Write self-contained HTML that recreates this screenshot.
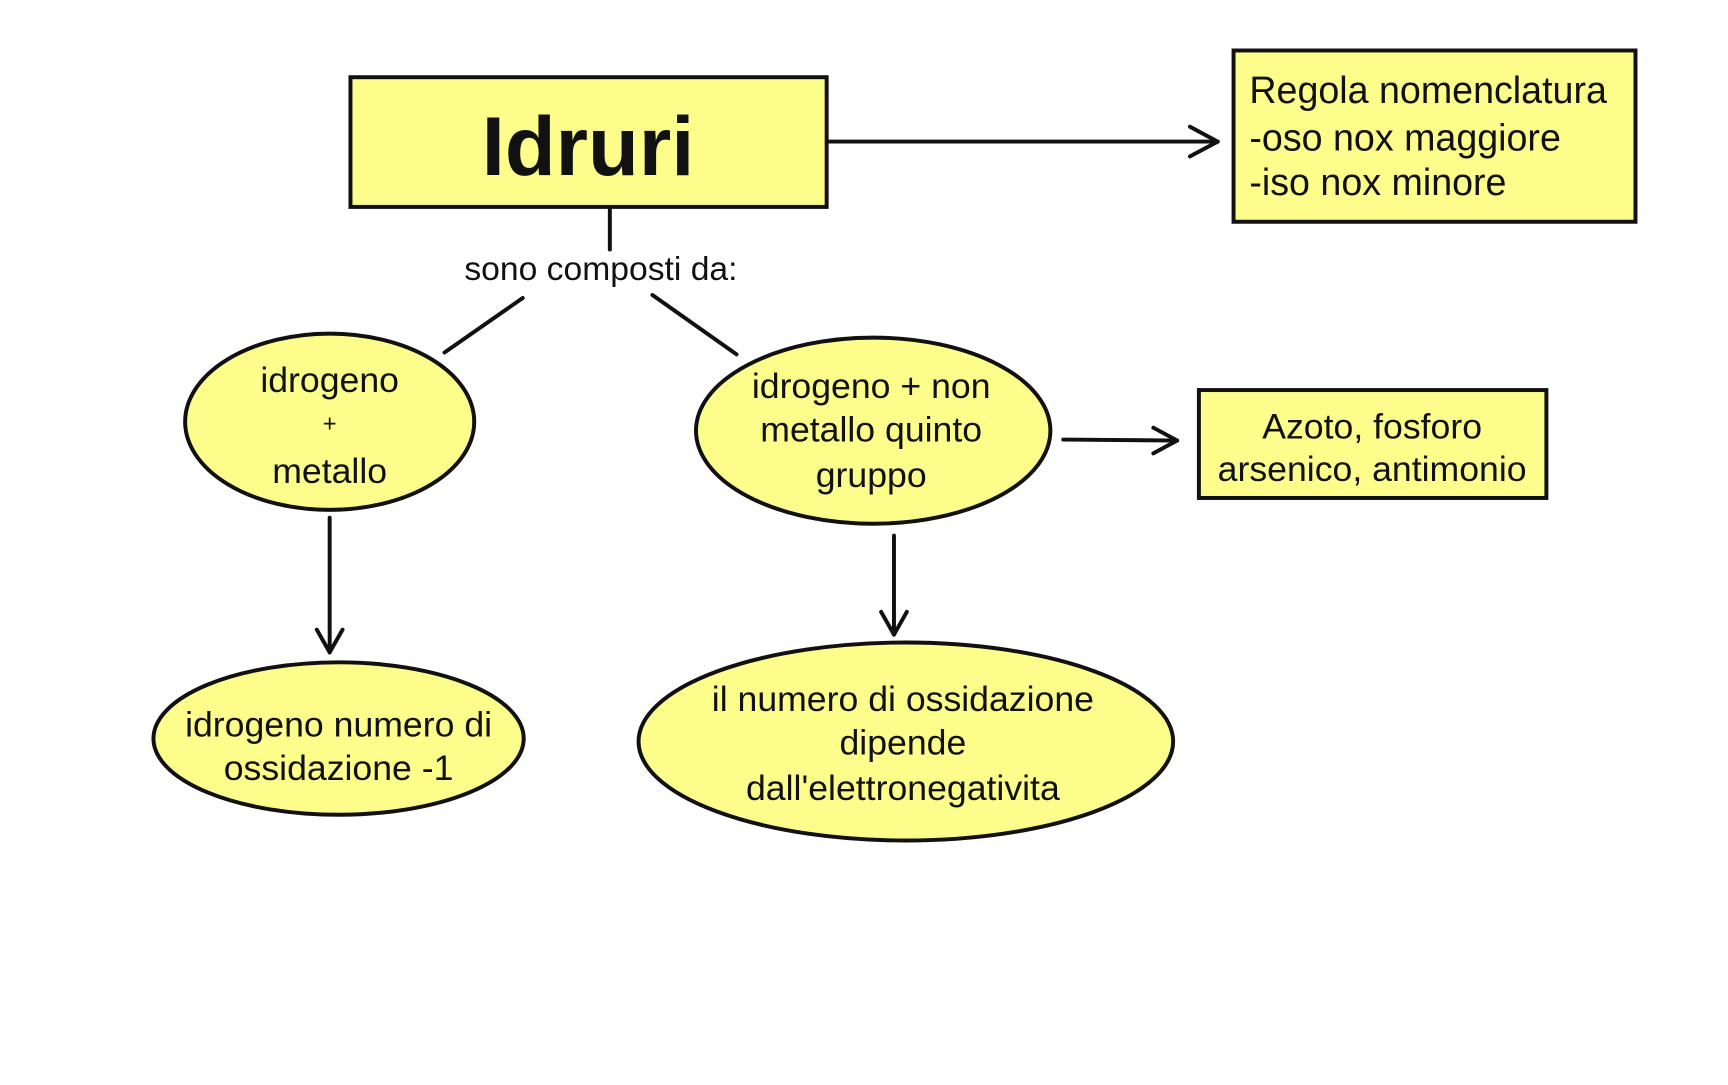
<!DOCTYPE html>
<html><head><meta charset="utf-8"><style>
html,body{margin:0;padding:0;background:#fff;}
svg text{font-family:"Liberation Sans Narrow","Liberation Sans",sans-serif;fill:#111;text-anchor:middle;}
</style></head><body>
<svg width="1728" height="1080" viewBox="0 0 1728 1080" xmlns="http://www.w3.org/2000/svg">
<g transform="scale(0.99)">
<g stroke="#111" stroke-width="4" fill="#fdfd8c">
<rect x="354" y="78" width="481" height="131"/>
<rect x="1246" y="51" width="406" height="173"/>
<rect x="1211" y="394" width="351" height="109"/>
<ellipse cx="333" cy="426" rx="146" ry="89"/>
<ellipse cx="882" cy="435" rx="179" ry="94"/>
<ellipse cx="342" cy="746" rx="187" ry="77"/>
<ellipse cx="915" cy="749" rx="270" ry="100"/>
</g>
<g stroke="#111" stroke-width="4" fill="none" stroke-linecap="round" stroke-linejoin="round">
<line x1="837" y1="143" x2="1230" y2="143"/><polyline points="1202,128 1230,143 1202,158"/>
<line x1="616" y1="212" x2="616" y2="252"/>
<line x1="528" y1="301" x2="449" y2="356"/>
<line x1="659" y1="298" x2="744" y2="358"/>
<line x1="1074" y1="444" x2="1189" y2="445"/><polyline points="1165,432 1189,445 1165,458"/>
<line x1="333" y1="523" x2="333" y2="659"/><polyline points="320,636 333,659 346,636"/>
<line x1="903" y1="541" x2="903" y2="641"/><polyline points="890,618 903,641 916,618"/>
</g>
<text x="594" y="177" font-size="84" font-weight="bold">Idruri</text>
<g font-size="38">
<text x="1262" y="104" style="text-anchor:start">Regola  nomenclatura</text>
<text x="1262" y="152" style="text-anchor:start">-oso nox maggiore</text>
<text x="1262" y="197" style="text-anchor:start">-iso nox minore</text>
</g>
<text x="607" y="283" font-size="34">sono composti da:</text>
<g font-size="36">
<text x="333" y="396">idrogeno</text>
<text x="333" y="436" font-size="24">+</text>
<text x="333" y="488">metallo</text>
<text x="880" y="402">idrogeno + non</text>
<text x="880" y="446">metallo quinto</text>
<text x="880" y="492">gruppo</text>
<text x="1386" y="443">Azoto, fosforo</text>
<text x="1386" y="486">arsenico, antimonio</text>
<text x="342" y="744">idrogeno numero di</text>
<text x="342" y="788">ossidazione -1</text>
<text x="912" y="718">il numero di ossidazione</text>
<text x="912" y="762">dipende</text>
<text x="912" y="808">dall'elettronegativita</text>
</g>
</g>
</svg>
</body></html>
